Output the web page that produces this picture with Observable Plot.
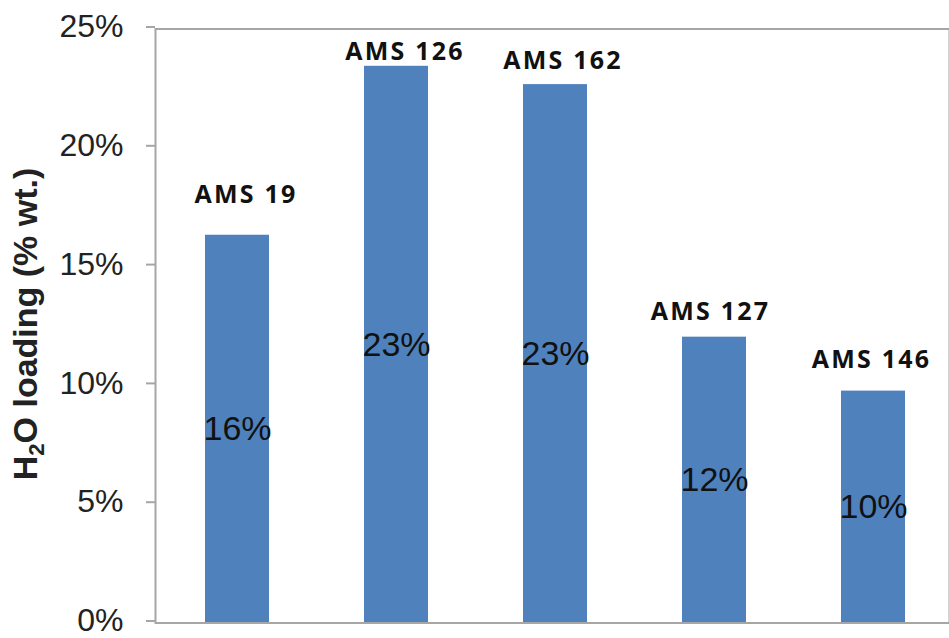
<!DOCTYPE html>
<html>
<head>
<meta charset="utf-8">
<script src="https://cdn.jsdelivr.net/npm/d3@7"></script>
<script src="https://cdn.jsdelivr.net/npm/@observablehq/plot@0.6"></script>
<style>
  html, body { margin: 0; padding: 0; background: #fff; }
</style>
</head>
<body>
<div id="chart"></div>
<script>
// Water loading per sample
const samples = ["AMS 19", "AMS 126", "AMS 162", "AMS 127", "AMS 146"];
const loading = [0.1632, 0.2343, 0.2266, 0.1203, 0.0976];
const yTicks = [0, 0.05, 0.10, 0.15, 0.20, 0.25];

// hand-placed sample names: [dx, dy] in px from the top of each bar
const nameOffsets = [[8.5, -32], [8.5, -6], [7.5, -16], [-4, -17], [-2, -23]];

const rows = samples.map((s, i) => ({sample: s, value: loading[i]}));
const pct = d3.format(".0%");
const barColor = "#4F81BD";
const axisGray = "#a6a6a6";
const sansFont = "'Liberation Sans', Arial, sans-serif";
const nameFont = "'Open Sans', sans-serif";

const nameMarks = rows.map((r, i) => Plot.text([r], {
  x: "sample",
  y: "value",
  text: "sample",
  dx: nameOffsets[i][0],
  dy: nameOffsets[i][1],
  lineAnchor: "bottom",
  fontFamily: nameFont,
  fontWeight: 700,
  fontSize: 25,
  fill: "#111"
}));

const chart = Plot.plot({
  width: 949,
  height: 638,
  marginLeft: 155,
  marginRight: 0,
  marginTop: 28.5,
  marginBottom: 15.5,
  style: {fontFamily: sansFont, background: "#fff"},
  x: {domain: samples, range: [155, 954], paddingInner: 0.6, paddingOuter: 0.3, axis: null},
  y: {domain: [0, 0.25]},
  marks: [
    Plot.barY(rows, {x: "sample", y: "value", fill: barColor}),
    Plot.frame({stroke: axisGray, strokeWidth: 2}),
    Plot.axisY({
      ticks: yTicks,
      tickFormat: pct,
      tickSize: 9,
      tickPadding: 23,
      fontSize: 32,
      dy: -2,
      stroke: axisGray,
      strokeWidth: 2,
      fill: "#222",
      label: null
    }),
    // value labels in the middle of each bar
    Plot.text(rows, {
      x: "sample",
      y: d => d.value / 2,
      text: d => pct(d.value),
      fontSize: 34,
      fill: "#111"
    }),
    ...nameMarks
  ]
});

// widen the sample names a little
d3.select(chart).selectAll("text")
  .filter(function () { return samples.includes(this.textContent); })
  .style("letter-spacing", "2.2px");

// y-axis title with a subscript
const title = d3.select(chart).append("text")
  .attr("transform", "translate(37,324) rotate(-90)")
  .attr("text-anchor", "middle")
  .attr("font-family", sansFont)
  .attr("font-weight", 700)
  .attr("font-size", 34)
  .attr("fill", "#222");
title.append("tspan").text("H");
title.append("tspan").attr("font-size", "0.65em").attr("dy", "0.3em").text("2");
title.append("tspan").attr("dy", "-0.195em").text("O loading (% wt.)");

document.getElementById("chart").appendChild(chart);
</script>
</body>
</html>
